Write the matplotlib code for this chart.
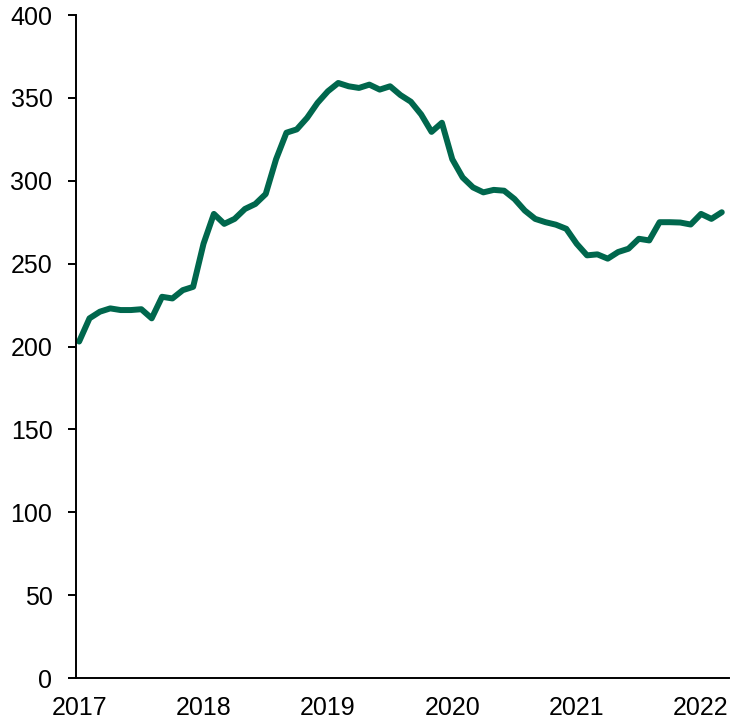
import matplotlib
matplotlib.use("Agg")
import matplotlib.pyplot as plt

# Monthly values, Jan 2017 .. Mar 2022
values = [203, 217, 221, 223, 222, 222, 222.5, 217, 230, 229, 234, 236,
          262, 280, 274, 277, 283, 286, 292, 313, 329, 331, 338, 347,
          354, 359, 357, 356, 358, 355, 357, 351.7, 347.7, 340, 329.5, 335,
          313, 302, 296, 293, 294.5, 294, 289, 282, 277, 275, 273.5, 271,
          262, 255, 255.6, 253, 257, 259, 265, 264, 275, 275, 274.8, 273.6,
          280, 277, 281]
year_labels = ["2017", "2018", "2019", "2020", "2021", "2022"]
y_ticks = [0, 50, 100, 150, 200, 250, 300, 350, 400]

plt.rcParams['font.family'] = ['Liberation Sans', 'DejaVu Sans']

fig = plt.figure(figsize=(7.31, 7.25), dpi=100)
ax = fig.add_axes([0.1040, 0.0648, 0.8933, 0.9145])

months = list(range(len(values)))
ax.plot(months, values, color="#00674D", linewidth=4.3, solid_capstyle="round",
        solid_joinstyle="round")

ax.set_ylim(0, 400)
ax.set_yticks(y_ticks)
ax.set_xlim(-0.3, 62.7)
ax.set_xticks([12 * i for i in range(len(year_labels))])
ax.set_xticklabels(year_labels)

for s in ["top", "right"]:
    ax.spines[s].set_visible(False)
for s in ["left", "bottom"]:
    ax.spines[s].set_linewidth(1.4)
    ax.spines[s].set_color("black")

ax.tick_params(axis="y", length=6, width=1.4, direction="out", labelsize=18, pad=11)
ax.tick_params(axis="x", length=0, labelsize=18, pad=13)

fig.savefig("out.png", dpi=100)
